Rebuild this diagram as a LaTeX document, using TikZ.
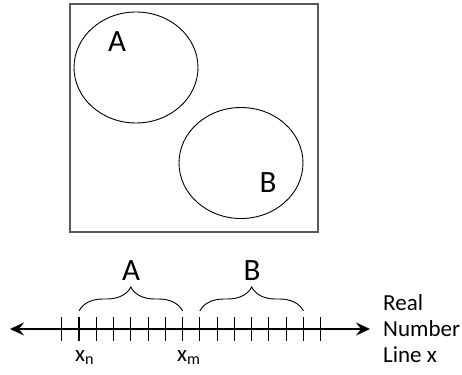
\documentclass[tikz,border=0pt]{standalone}
\usepackage{fontspec}
\setmainfont{Carlito}
\usetikzlibrary{arrows.meta,shapes.geometric,decorations.pathreplacing}
\definecolor{framegray}{HTML}{5A5A5A}
\tikzset{
  setblob/.style={
    draw=black,
    ellipse,
    line width=0.9pt,
    minimum width=124pt,
    minimum height=111pt,
    inner sep=0pt
  },
  biglabel/.style={font=\fontsize{31}{32}\selectfont, inner sep=0pt},
  smalllabel/.style={font=\fontsize{23}{26}\selectfont, inner sep=0pt},
  tickmark/.style={line width=1.1pt},
  axis/.style={{Stealth[length=14pt,width=13pt,inset=5pt]}-{Stealth[length=14pt,width=13pt,inset=5pt]}, line width=1.9pt},
  setbrace/.style={decorate, decoration={brace, amplitude=24pt}, line width=0.9pt}
}

\begin{document}
\begin{tikzpicture}[x=1pt,y=-1pt]
\useasboundingbox (0,0) rectangle (462,374);

% Universe with the two sets
\draw[framegray, line width=1.2pt] (70,4) rectangle (318,232);
\node[setblob] (setA) at (136,67.5) {};
\node[setblob] (setB) at (241,163) {};
\node[biglabel] (labA) at (117,42) {A};
\node[biglabel] (labB) at (268,183) {B};

% Real number line
\coordinate (lineL) at (10,329);
\coordinate (lineR) at (370,329);
\draw[axis] (lineL) -- (lineR);
\foreach \i in {0,...,15} {
  \coordinate (t\i) at ({61.7+17.27*\i},317);
  \draw[tickmark] (t\i) -- ++(0,24);
}

% Braces over the intervals
\draw[setbrace] ([yshift=6pt]t1) -- ([yshift=6pt]t7) coordinate[midway] (midA);
\draw[setbrace] ([yshift=6pt]t8) -- ([yshift=6pt]t14) coordinate[midway] (midB);
\node[biglabel, anchor=base] (braceA) at (131,280) {A};
\node[biglabel, anchor=base] (braceB) at (252,280) {B};

% Labels under the line
\node[smalllabel, anchor=base west] (xn) at (75,361) {x\textsubscript{n}};
\node[smalllabel, anchor=base west] (xm) at (177,361) {x\textsubscript{m}};
\node[smalllabel, anchor=north west, align=left] (realline) at (383,294) {Real\\Number\\Line x};

\end{tikzpicture}
\end{document}
